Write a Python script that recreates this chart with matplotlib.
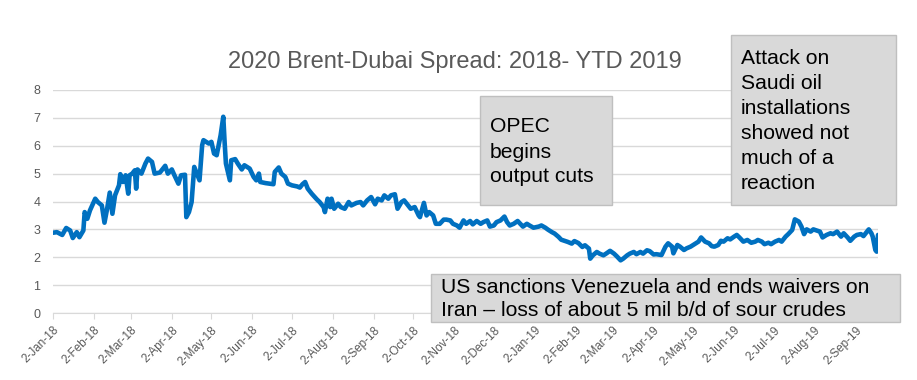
import pandas as pd
import matplotlib
matplotlib.use("Agg")
import matplotlib.pyplot as plt
from matplotlib.patches import Rectangle

plt.rcParams['font.family'] = ['Liberation Sans', 'DejaVu Sans']

# Spread values, by day offset from 2-Jan-18
start_date = "2018-01-02"
day_offsets = [
    0, 3, 7, 10, 13, 15, 18, 20, 23, 24, 26, 28, 32, 34, 37, 39, 41, 43, 45, 47,
    50, 51, 53, 55, 57, 58, 60, 62, 63, 64, 67, 70, 72, 75, 77, 81, 85, 87, 90, 92,
    95, 97, 100, 101, 103, 105, 107, 109, 111, 113, 114, 118, 120, 122, 124, 127, 129, 130, 131, 134,
    135, 138, 140, 143, 145, 149, 152, 154, 156, 157, 161, 164, 167, 168, 171, 173, 176, 178, 181, 185,
    187, 189, 191, 193, 196, 200, 202, 205, 206, 208, 210, 211, 213, 216, 218, 221, 224, 226, 230, 233,
    235, 238, 241, 244, 246, 249, 251, 254, 256, 259, 261, 264, 266, 269, 271, 274, 277, 278, 281, 283,
    285, 288, 290, 293, 296, 298, 301, 303, 306, 308, 311, 313, 316, 318, 321, 324, 326, 329, 331, 334,
    336, 339, 342, 344, 346, 349, 352, 354, 356, 359, 361, 364, 368, 370, 373, 375, 378, 380, 383, 385,
    388, 390, 393, 395, 398, 401, 403, 406, 407, 409, 412, 414, 417, 419, 422, 425, 427, 430, 432, 435,
    437, 440, 442, 445, 447, 450, 452, 455, 457, 461, 464, 466, 469, 470, 473, 475, 478, 480, 483, 486,
    489, 491, 494, 497, 499, 501, 504, 506, 508, 511, 513, 516, 518, 520, 523, 526, 529, 532, 534, 537,
    539, 542, 544, 547, 550, 552, 555, 557, 560, 562, 565, 567, 569, 571, 574, 576, 579, 581, 583, 586,
    589, 591, 594, 597, 599, 602, 604, 607, 609, 612, 614, 618, 620, 621, 623, 624, 625,
]
spread = [
    2.88, 2.90, 2.80, 3.05, 2.96, 2.69, 2.90, 2.72, 2.96, 3.62, 3.38, 3.68, 4.10, 3.98, 3.86, 3.24, 3.74, 4.32, 3.56, 4.22,
    4.58, 4.98, 4.70, 4.94, 4.28, 4.94, 5.00, 5.12, 4.46, 5.15, 5.00, 5.36, 5.54, 5.42, 5.00, 5.04, 5.28, 5.00, 5.15, 4.94,
    4.64, 4.94, 4.96, 3.44, 3.62, 3.98, 5.24, 5.00, 4.76, 6.02, 6.20, 6.08, 6.14, 5.72, 5.66, 6.38, 7.04, 6.14, 5.36, 4.76,
    5.48, 5.52, 5.36, 5.15, 5.30, 5.18, 4.88, 4.76, 5.00, 4.70, 4.66, 4.64, 4.62, 5.06, 5.22, 5.00, 4.88, 4.64, 4.58, 4.54,
    4.50, 4.62, 4.70, 4.46, 4.28, 4.07, 3.98, 3.80, 3.62, 4.10, 3.80, 4.10, 3.74, 3.92, 3.80, 3.74, 3.98, 3.86, 3.95, 3.98,
    3.86, 4.04, 4.16, 3.90, 4.10, 4.04, 4.22, 4.10, 4.22, 4.26, 3.74, 3.98, 4.04, 3.86, 3.74, 3.80, 3.50, 3.44, 3.95, 3.50,
    3.62, 3.50, 3.20, 3.20, 3.35, 3.35, 3.32, 3.20, 3.14, 3.06, 3.32, 3.20, 3.30, 3.18, 3.30, 3.20, 3.26, 3.32, 3.10, 3.14,
    3.26, 3.32, 3.46, 3.26, 3.14, 3.20, 3.30, 3.20, 3.10, 3.20, 3.14, 3.06, 3.10, 3.14, 3.06, 2.99, 2.90, 2.85, 2.73, 2.63,
    2.58, 2.55, 2.49, 2.58, 2.51, 2.37, 2.43, 2.31, 1.95, 2.07, 2.19, 2.13, 2.07, 2.13, 2.23, 2.13, 2.04, 1.89, 1.95, 2.07,
    2.13, 2.19, 2.11, 2.19, 2.13, 2.25, 2.22, 2.10, 2.11, 2.08, 2.38, 2.50, 2.38, 2.14, 2.44, 2.38, 2.26, 2.32, 2.38, 2.47,
    2.56, 2.71, 2.56, 2.50, 2.40, 2.38, 2.44, 2.59, 2.56, 2.68, 2.64, 2.74, 2.80, 2.71, 2.56, 2.62, 2.52, 2.56, 2.62, 2.56,
    2.47, 2.52, 2.47, 2.56, 2.62, 2.56, 2.74, 2.83, 2.98, 3.36, 3.28, 3.10, 2.83, 3.00, 2.92, 3.00, 2.95, 2.92, 2.71, 2.80,
    2.86, 2.83, 2.92, 2.74, 2.86, 2.71, 2.59, 2.74, 2.80, 2.83, 2.76, 3.00, 2.86, 2.74, 2.26, 2.20, 2.80,
]

tick_labels = [
    "2-Jan-18", "2-Feb-18", "2-Mar-18", "2-Apr-18", "2-May-18", "2-Jun-18", "2-Jul-18",
    "2-Aug-18", "2-Sep-18", "2-Oct-18", "2-Nov-18", "2-Dec-18", "2-Jan-19", "2-Feb-19",
    "2-Mar-19", "2-Apr-19", "2-May-19", "2-Jun-19", "2-Jul-19", "2-Aug-19", "2-Sep-19",
]
y_ticks = [0, 1, 2, 3, 4, 5, 6, 7, 8]

title = "2020 Brent-Dubai Spread: 2018- YTD 2019"
note_opec = "OPEC\nbegins\noutput cuts"
note_attack = "Attack on\nSaudi oil\ninstallations\nshowed not\nmuch of a\nreaction"
note_sanctions = "US sanctions Venezuela and ends waivers on\nIran \u2013 loss of about 5 mil b/d of sour crudes"

dates = pd.Timestamp(start_date) + pd.to_timedelta(day_offsets, unit="D")
tick_dates = pd.to_datetime(tick_labels, format="%d-%b-%y")

W, H = 917, 380
fig = plt.figure(figsize=(W / 100, H / 100), dpi=100)
ax = fig.add_axes([53 / W, (H - 313) / H, (878 - 53) / W, (313 - 90) / H])

ax.plot(dates, spread, color="#0070C0", lw=3.3, solid_joinstyle="round", solid_capstyle="round", zorder=3)

ax.set_xlim(dates[0], dates[-1])
ax.set_ylim(0, 8)
ax.set_yticks(y_ticks)
ax.set_xticks(tick_dates)
ax.set_xticklabels(tick_labels, rotation=45, ha="right", rotation_mode="anchor")
ax.yaxis.grid(True, color="#D9D9D9", lw=1)
ax.set_axisbelow(True)
for s in ["top", "right", "left"]:
    ax.spines[s].set_visible(False)
ax.spines["bottom"].set_color("#D9D9D9")
ax.tick_params(axis="y", length=0, pad=9, labelsize=9, labelcolor="#595959")
ax.tick_params(axis="x", length=4, color="#D9D9D9", pad=4, labelsize=8.5, labelcolor="#595959")

fig.text(455 / W, 1 - 62 / H, title, ha="center", va="center", fontsize=17, color="#595959")


# grey annotation boxes, pixel boxes -> figure fractions
def note(x0, y0, x1, y1, text, tx, ty, ls=1.4):
    fig.patches.append(Rectangle((x0 / W, 1 - y1 / H), (x1 - x0) / W, (y1 - y0) / H,
                                 transform=fig.transFigure, facecolor="#D9D9D9",
                                 edgecolor="#BFBFBF", lw=1, zorder=5))
    fig.text(tx / W, 1 - ty / H, text, ha="left", va="center", fontsize=15.2,
             color="black", linespacing=ls, zorder=6)


note(480, 96, 612, 205, note_opec, 490, 152)
note(731, 35, 896, 205, note_attack, 741, 121)
note(431, 274, 900, 322, note_sanctions, 441, 299, ls=1.3)

fig.savefig("out.png", dpi=100)
